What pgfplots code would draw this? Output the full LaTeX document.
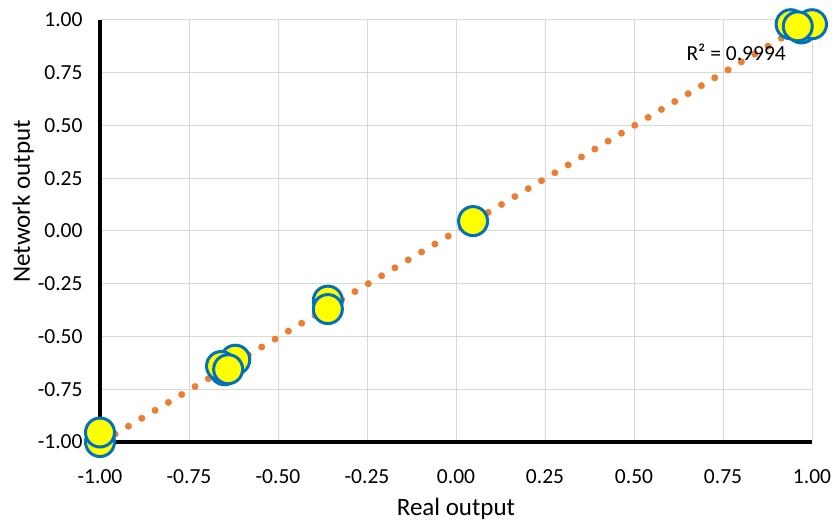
\documentclass[border=0pt]{standalone}
\usepackage{fontspec}
\setmainfont{Carlito}
\usepackage{pgfplots}
\pgfplotsset{compat=1.18}
\usetikzlibrary{calc}
\definecolor{mkfill}{RGB}{255,255,0}
\definecolor{mkedge}{RGB}{0,112,192}
\definecolor{trend}{RGB}{237,125,49}
\definecolor{gridc}{RGB}{217,217,217}
\begin{document}
\begin{tikzpicture}
\begin{axis}[
    scale only axis,
    width=712bp, height=422bp,
    xmin=-1, xmax=1, ymin=-1, ymax=1,
    xtick={-1,-0.75,...,1.01}, ytick={-1,-0.75,...,1.01},
    axis lines=left,
    axis line style={-, line width=3.5bp, black},
    major tick length=0pt,
    grid=major,
    grid style={gridc, line width=1bp},
    /pgf/number format/assume math mode=true,
    /pgf/number format/.cd, fixed, fixed zerofill, precision=2, /pgfplots/.cd,
    ticklabel style={font=\fontsize{21.5bp}{25bp}\selectfont},
    xticklabel style={yshift=-24bp},
    yticklabel style={xshift=-14bp},
    xlabel={Real output}, ylabel={Network output},
    label style={font=\fontsize{25bp}{29bp}\selectfont},
    xlabel style={yshift=-8bp},
    ylabel style={at={(ticklabel cs:0.57)}, yshift=-3bp},
    clip=false,
]
\addplot[only marks, mark=*, mark size=14.5bp,
    mark options={fill=mkfill, draw=mkedge, line width=3bp}]
coordinates {
(-1.00,-1.00) (-1.00,-0.955)
(-0.65,-0.66) (-0.62,-0.61) (-0.66,-0.64) (-0.64,-0.655)
(-0.36,-0.33) (-0.36,-0.37)
(0.048,0.047)
(0.97,0.96) (0.94,0.98) (1.00,0.98) (0.96,0.97)
};
\addplot[trend, line width=7bp, line cap=round, dash pattern=on 0pt off 15.5bp]
coordinates {(-0.995,-1.0) (0.967,0.967)};
\node[anchor=center, font=\fontsize{21.5bp}{25bp}\selectfont] at (axis cs:0.787,0.848) {R² = 0.9994};
\end{axis}
\pgfresetboundingbox
\path ($(current axis.south west)+(-100bp,-82bp)$) rectangle ++(835bp,524bp);
\end{tikzpicture}
\end{document}
